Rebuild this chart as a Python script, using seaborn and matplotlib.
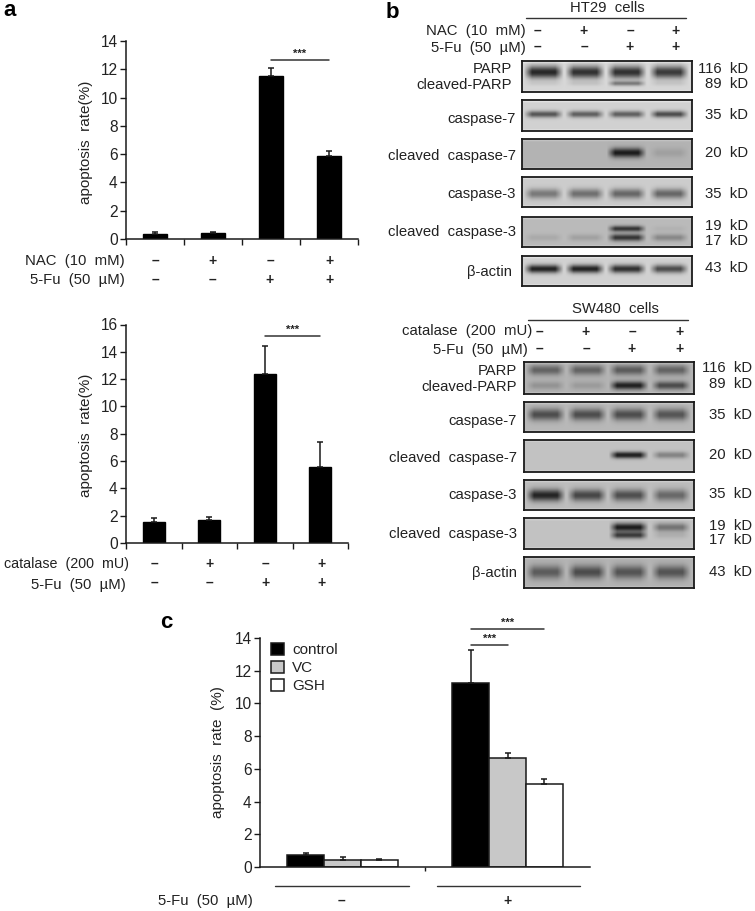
import numpy as np
import pandas as pd
import matplotlib
matplotlib.use("Agg")
import matplotlib.pyplot as plt
import seaborn as sns

W, H = 755, 911

# panel a, NAC
nac_rate = [0.35, 0.45, 11.55, 5.9]
nac_err = [0.15, 0.05, 0.55, 0.35]
# panel a, catalase
cat_rate = [1.55, 1.65, 12.4, 5.6]
cat_err = [0.3, 0.25, 2.0, 1.8]
# panel c
groups = ["-", "+"]
treatments = ["control", "VC", "GSH"]
minus_rate = [0.75, 0.45, 0.42]
minus_err = [0.1, 0.15, 0.08]
plus_rate = [11.25, 6.65, 5.1]
plus_err = [2.0, 0.35, 0.25]

sign_a = ["–", "+", "–", "+"]
sign_b = ["–", "–", "+", "+"]

# band darkness per lane, HT29 blots
ht_parp = [0.9, 0.85, 0.85, 0.8]
ht_cparp = [0.05, 0.08, 0.45, 0.07]
ht_casp7 = [0.65, 0.6, 0.6, 0.7]
ht_ccasp7 = [0.0, 0.0, 0.95, 0.12]
ht_casp3 = [0.45, 0.5, 0.55, 0.55]
ht_cc3_19 = [0.0, 0.0, 0.8, 0.05]
ht_cc3_17 = [0.1, 0.15, 0.8, 0.3]
ht_actin = [0.92, 0.92, 0.85, 0.7]
# band darkness per lane, SW480 blots
sw_parp = [0.5, 0.5, 0.55, 0.5]
sw_cparp = [0.2, 0.15, 0.92, 0.65]
sw_casp7 = [0.65, 0.65, 0.65, 0.6]
sw_ccasp7 = [0.0, 0.0, 0.92, 0.35]
sw_casp3 = [0.9, 0.7, 0.65, 0.5]
sw_cc3_19 = [0.0, 0.0, 0.95, 0.45]
sw_cc3_17 = [0.0, 0.0, 0.75, 0.1]
sw_actin = [0.55, 0.65, 0.6, 0.6]

sns.set_theme(style="white")
plt.rcParams["font.family"] = ["Liberation Sans", "DejaVu Sans"]
plt.rcParams["text.color"] = "#222222"
INK = "#1a1a1a"

fig = plt.figure(figsize=(W / 100, H / 100), dpi=100, facecolor="white")


def box(left, top, right, bottom):
    return [left / W, 1 - bottom / H, (right - left) / W, (bottom - top) / H]


def put(x, y, s, ha="right", size=10.7, **kw):
    fig.text(x / W, 1 - y / H, s, ha=ha, va="center", fontsize=size, **kw)


def style_axis(ax, ymax, step):
    ax.set_ylim(0, ymax)
    ax.set_yticks(np.arange(0, ymax + 1, step))
    ax.tick_params(axis="y", labelsize=11.2, length=4, width=1, color=INK, left=True, pad=2, labelcolor="#222222")
    ax.tick_params(axis="x", which="both", length=4, width=1, color=INK, bottom=True)
    ax.set_xticks([])
    ax.set_xlabel("")
    ax.set_ylabel("")
    sns.despine(ax=ax)
    for side in ["left", "bottom"]:
        ax.spines[side].set_color(INK)
        ax.spines[side].set_linewidth(1.1)
    ax.patch.set_alpha(0)


def add_errors(ax, bars, errs):
    for bar, e in zip(bars, errs):
        xc = bar.get_x() + bar.get_width() / 2
        ax.errorbar(xc, bar.get_height(), yerr=[[0], [e]], color=INK, elinewidth=1.1, capsize=2.3, capthick=1.1)


def bracket(ax, x0, x1, y, label="***"):
    ax.plot([x0, x1], [y, y], color="#333333", lw=1.1, clip_on=False)
    ax.annotate(label, ((x0 + x1) / 2, y), xytext=(0, 1), textcoords="offset points",
                ha="center", va="bottom", fontsize=8, annotation_clip=False, fontweight="bold")


def four_bars(rect, rate, err, ymax, ystep, star_y, bar_w):
    ax = fig.add_axes(rect)
    df = pd.DataFrame({"pos": list("abcd"), "rate": rate})
    sns.barplot(data=df, x="pos", y="rate", color="black", saturation=1, width=bar_w, edgecolor="black", ax=ax)
    add_errors(ax, ax.containers[0], err)
    ax.set_xlim(-0.5, 3.5)
    style_axis(ax, ymax, ystep)
    ax.set_xticks(np.arange(-0.5, 4, 1))
    ax.set_xticklabels([])
    bracket(ax, 2, 3, star_y)
    return ax


def sign_row(xs, y, signs):
    for x, s in zip(xs, signs):
        put(x, y, s, ha="center", size=10, fontweight="bold")


# panel a
four_bars(box(126, 41, 358, 239), nac_rate, nac_err, 14, 2, 12.65, 0.42)
put(86, 142, "apoptosis  rate(%)", ha="center", size=11, rotation=90)
put(125, 261, "NAC  (10  mM)")
put(125, 280, "5-Fu  (50  µM)")
sign_row([155, 212, 270, 329], 261, sign_a)
sign_row([155, 212, 270, 329], 280, sign_b)

four_bars(box(126, 324.5, 348, 543), cat_rate, cat_err, 16, 2, 15.16, 0.39)
put(86, 435, "apoptosis  rate(%)", ha="center", size=11, rotation=90)
put(129, 564, "catalase  (200  mU)", size=10.3)
put(126, 585, "5-Fu  (50  µM)")
sign_row([154, 209, 265, 322], 564, sign_a)
sign_row([154, 209, 265, 322], 583, sign_b)

# panel c
ax_c = fig.add_axes(box(260, 638, 590, 867))
df_c = pd.DataFrame({
    "group": [g for g in groups for _ in treatments],
    "treatment": treatments * 2,
    "rate": minus_rate + plus_rate,
})
sns.barplot(data=df_c, x="group", y="rate", hue="treatment", palette=["black", "#c8c8c8", "white"],
            saturation=1, width=0.67, gap=0, edgecolor=INK, linewidth=1.1, ax=ax_c)
bar_sets = list(ax_c.containers)
for i, cont in enumerate(bar_sets):
    add_errors(ax_c, cont, [minus_err[i], plus_err[i]])
ax_c.set_xlim(-0.5, 1.5)
style_axis(ax_c, 14, 2)
ax_c.set_xticks([0.5])
ax_c.set_xticklabels([])
ax_c.tick_params(axis="x", length=3)
ctrl, vc, gsh = [c[1] for c in bar_sets]
mid = lambda b: b.get_x() + b.get_width() / 2
bracket(ax_c, mid(ctrl), mid(vc), 13.57)
bracket(ax_c, mid(ctrl), mid(gsh), 14.55)
ax_c.legend(frameon=False, loc="upper left", bbox_to_anchor=(0.025, 0.992), fontsize=11,
            handlelength=0.8, handleheight=0.8, handletextpad=0.55, labelspacing=0.25, borderpad=0.1, borderaxespad=0.1)
xform = ax_c.get_xaxis_transform()
ax_c.plot([-0.41, 0.40], [-0.083, -0.083], transform=xform, color="#333333", lw=1, clip_on=False)
ax_c.plot([0.57, 1.44], [-0.083, -0.083], transform=xform, color="#333333", lw=1, clip_on=False)
put(218, 752, "apoptosis  rate  (%)", ha="center", size=11, rotation=90)
put(253, 901, "5-Fu  (50  µM)")
sign_row([341, 507], 901, ["–", "+"])

# blots
lane_pos = np.array([0.125, 0.37, 0.615, 0.865])


def blot_image(bg, bands, px_w=170, px_h=31):
    # bands: (darkness per lane, row position, thickness)
    yy, xx = np.mgrid[0:1:px_h * 2j, 0:1:px_w * 2j]
    dark = np.zeros_like(xx)
    for level, row, thick in bands:
        for lane, d in zip(lane_pos, level):
            across = np.clip((0.118 - np.abs(xx - lane)) / 0.05, 0, 1)
            down = np.exp(-((yy - row) / thick) ** 2)
            dark += d * across * down
    # lighter rim at top and bottom, like a scanned film
    edge = np.minimum(yy, 1 - yy)
    img = (bg + 0.1 * np.clip(1 - edge / 0.08, 0, 1)) * (1 - np.clip(dark, 0, 1)) + 0.08 * np.clip(dark, 0, 1)
    return np.clip(img, 0, 1)


def draw_blot(rect, bg, bands):
    ax = fig.add_axes(box(*rect))
    sns.heatmap(blot_image(bg, bands, int(rect[2] - rect[0]), int(rect[3] - rect[1])), cmap="gray", vmin=0, vmax=1,
                cbar=False, xticklabels=False, yticklabels=False, rasterized=True, ax=ax)
    for s in ax.spines.values():
        s.set_visible(True)
        s.set_color("#1a1a1a")
        s.set_linewidth(1.3)


ht_rows = [(61, 92), (100, 131), (139, 169), (177, 207), (217, 247), (256, 286)]
sw_rows = [(362, 394), (402, 432), (440, 472), (480, 510), (518, 549), (557, 588)]
ht_bg = [0.84, 0.82, 0.7, 0.8, 0.73, 0.82]
sw_bg = [0.7, 0.72, 0.76, 0.74, 0.76, 0.7]
ht_bands = [
    [(ht_parp, 0.35, 0.2), (ht_cparp, 0.72, 0.08)],
    [(ht_casp7, 0.45, 0.11)],
    [(ht_ccasp7, 0.45, 0.16)],
    [(ht_casp3, 0.55, 0.17)],
    [(ht_cc3_19, 0.38, 0.1), (ht_cc3_17, 0.68, 0.12)],
    [(ht_actin, 0.42, 0.14)],
]
sw_bands = [
    [(sw_parp, 0.24, 0.16), (sw_cparp, 0.73, 0.13)],
    [(sw_casp7, 0.41, 0.2)],
    [(sw_ccasp7, 0.47, 0.1)],
    [(sw_casp3, 0.5, 0.2)],
    [(sw_cc3_19, 0.29, 0.14), (sw_cc3_17, 0.55, 0.11)],
    [(sw_actin, 0.48, 0.22)],
]
for (t, b), bg, bands in zip(ht_rows, ht_bg, ht_bands):
    draw_blot((522, t, 692, b), bg, bands)
for (t, b), bg, bands in zip(sw_rows, sw_bg, sw_bands):
    draw_blot((524, t, 694, b), bg, bands)

blot_names = ["PARP", "cleaved-PARP", "caspase-7", "cleaved  caspase-7", "caspase-3", "cleaved  caspase-3", "β-actin"]
ht_name_pos = [(512, 69), (512, 85), (516, 119), (516, 156), (516, 194), (516, 232), (512, 272)]
sw_name_pos = [(517, 371), (517, 387), (517, 421), (517, 458), (517, 495), (517, 534), (517, 573)]
for name, (x, y) in zip(blot_names, ht_name_pos):
    put(x, y, name)
for name, (x, y) in zip(blot_names, sw_name_pos):
    put(x, y, name)

kd_labels = ["116  kD", "89  kD", "35  kD", "20  kD", "35  kD", "19  kD", "17  kD", "43  kD"]
ht_kd_y = [69, 84, 115, 153, 194, 226, 241, 268]
sw_kd_y = [368, 384, 415, 455, 494, 526, 540, 572]
for lab, y in zip(kd_labels, ht_kd_y):
    put(748, y, lab)
for lab, y in zip(kd_labels, sw_kd_y):
    put(752, y, lab)

put(607, 8, "HT29  cells", ha="center")
fig.add_artist(plt.Line2D([526 / W, 686 / W], [1 - 18 / H] * 2, color="#333333", lw=1))
put(526, 31, "NAC  (10  mM)")
put(526, 48, "5-Fu  (50  µM)")
sign_row([537, 584, 630, 675], 31, sign_a)
sign_row([537, 584, 630, 675], 47, sign_b)

put(615, 309, "SW480  cells", ha="center")
fig.add_artist(plt.Line2D([528 / W, 688 / W], [1 - 320 / H] * 2, color="#333333", lw=1))
put(532, 331, "catalase  (200  mU)")
put(528, 350, "5-Fu  (50  µM)")
sign_row([539, 586, 632, 679], 332, sign_a)
sign_row([539, 586, 632, 679], 349, sign_b)

# panel letters
put(10, 10, "a", ha="center", size=16, fontweight="bold", color="black")
put(392, 12, "b", ha="center", size=16, fontweight="bold", color="black")
put(166, 623, "c", ha="center", size=16, fontweight="bold", color="black")

fig.savefig("out.png", dpi=100)
